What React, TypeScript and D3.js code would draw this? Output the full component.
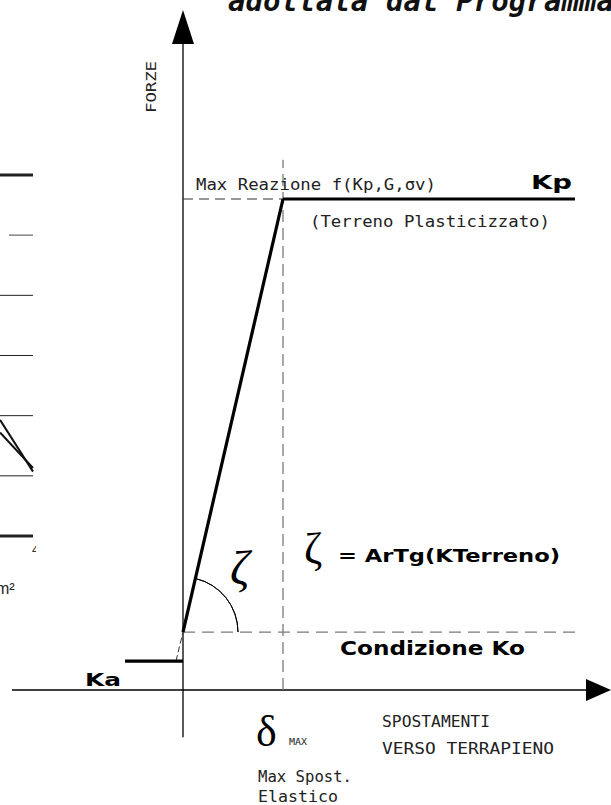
import React from 'react'
import * as d3 from 'd3'

// force levels (arbitrary force units, Kp = 10)
const levelNames = ['Ka', 'Ko', 'Kp']
const levelValues = [0.59, 1.18, 10]

// displacement (units of delta max)
const kaDisp = [-0.58, 0]
const linkDisp = [-0.07, 0]
const elasticDisp = [0, 1]
const plasticDisp = [1, 3.92]
const koLineDisp = [0, 3.92]
const deltaMax = 1
const deltaGuideTop = 10.8

const xAxisExtent = [-1.71, 4.28]
const yAxisExtent = [-0.96, 13.85]

// cropped neighbour chart on the left edge
const fragGrid = [0, 1, 2, 3, 4, 5, 6]
const fragSeriesA = [1.93, 1.07]
const fragSeriesB = [1.72, 1.13]

const W = 611
const H = 805

const x = d3.scaleLinear().domain([0, 1]).range([183, 283])
const y = d3.scaleLinear().domain([0, 10]).range([690, 199])
const fx = d3.scaleLinear().domain([0, 1]).range([0, 33])
const fy = d3.scaleLinear().domain([0, 6]).range([536, 175])

const lvl = (n: string) => levelValues[levelNames.indexOf(n)]
const line = d3
  .line<[number, number]>()
  .x((d) => x(d[0]))
  .y((d) => y(d[1]))

const mono = '"DejaVu Sans Mono", monospace'
const bold = '"DejaVu Sans", sans-serif'
const serif = '"Liberation Serif", serif'
const gray = '#7a7a7a'

const Label = ({ x, y, w, size = 15, children, weight = 'normal', family = mono }: any) => (
  <text
    x={x}
    y={y}
    fontFamily={family}
    fontWeight={weight}
    fontSize={size}
    textLength={w}
    lengthAdjust="spacingAndGlyphs"
    fill={weight === 'bold' ? '#000' : '#222'}
  >
    {children}
  </text>
)

const App = () => {
  const ka = lvl('Ka')
  const ko = lvl('Ko')
  const kp = lvl('Kp')
  const o = [x(0), y(ko)]
  const slope = Math.atan2(y(ko) - y(kp), x(deltaMax) - x(0))
  const arc = d3
    .arc()
    .innerRadius(55)
    .outerRadius(55)
    .startAngle(Math.PI / 2 - slope)
    .endAngle(Math.PI / 2)

  const yTip = y(yAxisExtent[1])
  const xTip = x(xAxisExtent[1])

  return (
    <svg
      width={W}
      height={H}
      style={{ position: 'absolute', left: 0, top: 0, background: '#fff' }}
    >
      <defs>
        <clipPath id="frag">
          <rect x={0} y={0} width={36} height={H} />
        </clipPath>
      </defs>

      {/* left fragment */}
      <g clipPath="url(#frag)">
        {fragGrid.map((g, i) => (
          <line
            key={g}
            x1={g === 5 ? 9 : 0}
            x2={fx(1)}
            y1={fy(g)}
            y2={fy(g)}
            stroke={g === 5 ? '#8a8a8a' : '#222'}
            strokeWidth={i === 0 || i === 6 ? 3 : g === 5 ? 1.6 : 1}
          />
        ))}
        <line x1={fx(0)} x2={fx(1)} y1={fy(fragSeriesA[0])} y2={fy(fragSeriesA[1])} stroke="#111" strokeWidth={2} />
        <line x1={fx(0)} x2={fx(1)} y1={fy(fragSeriesB[0])} y2={fy(fragSeriesB[1])} stroke="#111" strokeWidth={2} />
        <text x={32} y={554} fontFamily="Liberation Sans, sans-serif" fontSize={13} fill="#333">4</text>
        <text x={-4} y={594} fontFamily="Liberation Sans, sans-serif" fontSize={16} fill="#222">m²</text>
      </g>

      {/* title (cropped) */}
      <text
        x={228}
        y={11}
        fontFamily={mono}
        fontWeight="bold"
        fontStyle="italic"
        fontSize={29}
        textLength={386}
        fill="#111"
      >
        adottata dal Programma
      </text>

      {/* axes */}
      <line x1={x(0)} x2={x(0)} y1={y(yAxisExtent[0])} y2={yTip + 30} stroke="#000" strokeWidth={1.3} />
      <path d={`M${x(0)},${yTip} L${x(0) - 11},${yTip + 34} L${x(0) + 11},${yTip + 34} Z`} fill="#000" />
      <line x1={x(xAxisExtent[0])} x2={xTip - 20} y1={y(0)} y2={y(0)} stroke="#000" strokeWidth={1.3} />
      <path d={`M${xTip},${y(0)} L${xTip - 25},${y(0) - 11} L${xTip - 25},${y(0) + 11} Z`} fill="#000" />

      {/* guides */}
      <line
        x1={x(deltaMax)}
        x2={x(deltaMax)}
        y1={y(0)}
        y2={y(deltaGuideTop)}
        stroke={gray}
        strokeWidth={1.3}
        strokeDasharray="12 6"
      />
      <path d={line(koLineDisp.map((d) => [d, ko]) as [number, number][]) || ''} stroke={gray} strokeWidth={1.3} strokeDasharray="12 7" fill="none" />
      <path d={line([[0, kp], [deltaMax, kp]]) || ''} stroke="#333" strokeWidth={1.2} strokeDasharray="10 6" fill="none" />
      <path d={line(linkDisp.map((d, i) => [d, i === 0 ? ka : ko]) as [number, number][]) || ''} stroke="#333" strokeWidth={1} strokeDasharray="6 3" fill="none" />

      {/* curve */}
      <path d={line(kaDisp.map((d) => [d, ka]) as [number, number][]) || ''} stroke="#000" strokeWidth={3.2} fill="none" />
      <path d={line(elasticDisp.map((d, i) => [d, i === 0 ? ko : kp]) as [number, number][]) || ''} stroke="#000" strokeWidth={3.2} fill="none" />
      <path d={line(plasticDisp.map((d) => [d, kp]) as [number, number][]) || ''} stroke="#000" strokeWidth={3.2} fill="none" />

      {/* angle */}
      <path d={(arc as any)() || ''} transform={`translate(${o[0]},${o[1]})`} stroke="#000" strokeWidth={1} fill="none" />
      <text x={230} y={584} fontFamily={serif} fontStyle="italic" fontSize={48} fill="#000">ζ</text>

      {/* labels */}
      <text
        transform={`translate(156,113) rotate(-90)`}
        fontFamily={mono}
        fontSize={14}
        textLength={52}
        lengthAdjust="spacingAndGlyphs"
        fill="#222"
      >
        FORZE
      </text>
      <Label x={196} y={190} w={240}>Max Reazione f(Kp,G,σv)</Label>
      <Label x={531} y={189} w={41} size={19} weight="bold" family={bold}>Kp</Label>
      <Label x={310} y={227} w={240}>(Terreno Plasticizzato)</Label>
      <text x={304} y={563} fontFamily={serif} fontSize={44} fill="#000">ζ</text>
      <Label x={338} y={562} w={222} size={18} weight="bold" family={bold}>= ArTg(KTerreno)</Label>
      <Label x={340} y={655} w={185} size={19} weight="bold" family={bold}>Condizione Ko</Label>
      <Label x={85} y={686} w={36} size={18} weight="bold" family={bold}>Ka</Label>
      <text x={256} y={746} fontFamily={serif} fontSize={44} fill="#000">δ</text>
      <Label x={289} y={745} w={18} size={9}>MAX</Label>
      <Label x={382} y={727} w={108}>SPOSTAMENTI</Label>
      <Label x={382} y={754} w={172}>VERSO TERRAPIENO</Label>
      <Label x={258} y={782} w={94}>Max Spost.</Label>
      <Label x={258} y={802} w={80}>Elastico</Label>
    </svg>
  )
}

export default App
